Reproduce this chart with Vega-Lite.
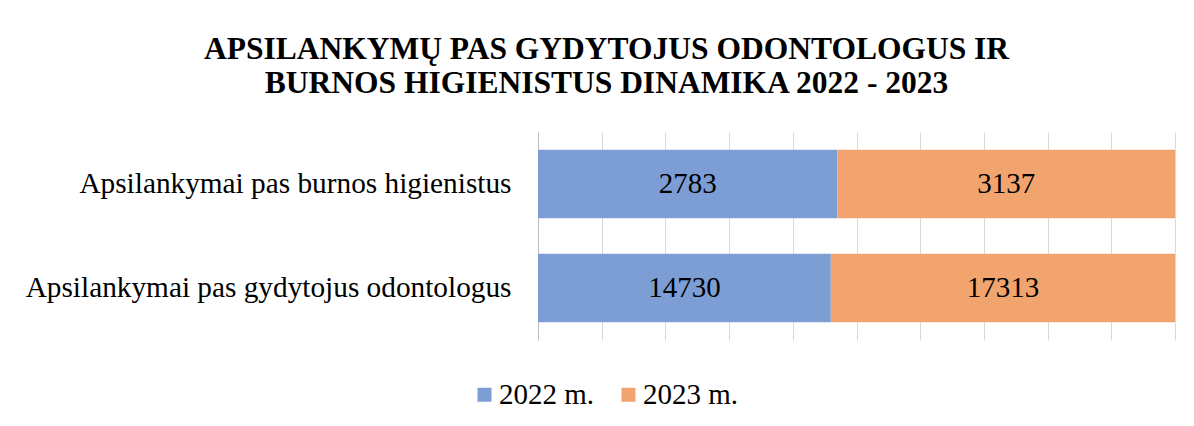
{
  "$schema": "https://vega.github.io/schema/vega-lite/v6.json",
  "width": 637,
  "height": 208,
  "autosize": {"type": "none"},
  "padding": {"left": 538, "top": 132, "right": 19, "bottom": 86},
  "background": "white",
  "title": {
    "text": ["APSILANKYMŲ PAS GYDYTOJUS ODONTOLOGUS IR", "BURNOS HIGIENISTUS DINAMIKA 2022 - 2023"],
    "font": "Liberation Serif",
    "fontSize": 31.5,
    "fontWeight": "bold",
    "color": "#000000",
    "anchor": "middle",
    "frame": "group",
    "dx": -250,
    "lineHeight": 34,
    "offset": 33
  },
  "data": {
    "values": [
      {"kategorija": "Apsilankymai pas burnos higienistus", "metai": "2022 m.", "apsilankymai": 2783},
      {"kategorija": "Apsilankymai pas burnos higienistus", "metai": "2023 m.", "apsilankymai": 3137},
      {"kategorija": "Apsilankymai pas gydytojus odontologus", "metai": "2022 m.", "apsilankymai": 14730},
      {"kategorija": "Apsilankymai pas gydytojus odontologus", "metai": "2023 m.", "apsilankymai": 17313}
    ]
  },
  "encoding": {
    "y": {
      "field": "kategorija",
      "type": "nominal",
      "sort": ["Apsilankymai pas burnos higienistus", "Apsilankymai pas gydytojus odontologus"],
      "scale": {"paddingInner": 0.34, "paddingOuter": 0.17},
      "axis": {
        "title": null,
        "ticks": false,
        "labelPadding": 27,
        "labelFont": "Liberation Serif",
        "labelFontSize": 29.3,
        "labelColor": "#000000",
        "labelLimit": 600,
        "domainColor": "#bfbfbf",
        "domainWidth": 1
      }
    }
  },
  "layer": [
    {
      "mark": {"type": "bar"},
      "encoding": {
        "x": {
          "field": "apsilankymai",
          "type": "quantitative",
          "stack": "normalize",
          "scale": {"domain": [0, 1]},
          "axis": {
            "title": null,
            "labels": false,
            "ticks": false,
            "domain": false,
            "grid": true,
            "gridColor": "#d9d9d9",
            "gridWidth": 1,
            "values": [0, 0.1, 0.2, 0.3, 0.4, 0.5, 0.6, 0.7, 0.8, 0.9, 1]
          }
        },
        "color": {
          "field": "metai",
          "type": "nominal",
          "scale": {"domain": ["2022 m.", "2023 m."], "range": ["#7c9ed5", "#f2a46e"]},
          "legend": {
            "title": null,
            "orient": "none",
            "direction": "horizontal",
            "legendX": -68,
            "legendY": 248,
            "symbolType": "square",
            "symbolSize": 196,
            "symbolStrokeWidth": 0,
            "symbolOpacity": 1,
            "labelFont": "Liberation Serif",
            "labelFontSize": 29,
            "labelColor": "#000000",
            "labelOffset": 0,
            "columnPadding": 19
          }
        }
      }
    },
    {
      "mark": {"type": "text", "font": "Liberation Serif", "fontSize": 29, "color": "#000000", "baseline": "middle", "align": "center"},
      "encoding": {
        "x": {"field": "apsilankymai", "type": "quantitative", "stack": "normalize", "bandPosition": 0.5},
        "detail": {"field": "metai", "type": "nominal"},
        "text": {"field": "apsilankymai", "type": "quantitative", "format": "d"}
      }
    }
  ],
  "config": {
    "view": {"stroke": null}
  }
}
